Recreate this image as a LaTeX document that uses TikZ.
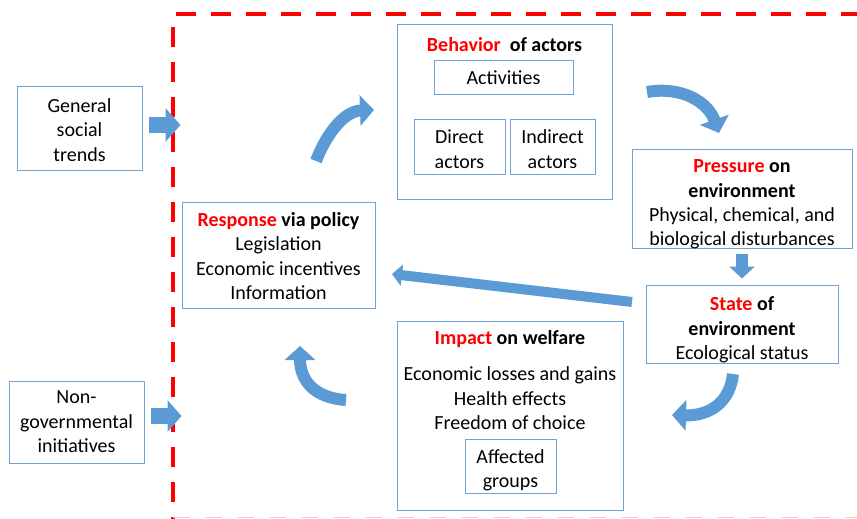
\documentclass[tikz,border=0pt]{standalone}
\usepackage{fontspec}
\setmainfont{Carlito}
\usetikzlibrary{arrows.meta}
\definecolor{boxblue}{RGB}{112,162,216}
\definecolor{arrblue}{RGB}{91,155,213}
\definecolor{faintred}{RGB}{255,196,196}
\newcommand{\rd}[1]{\textcolor{red}{\textbf{#1}}}

\begin{document}
\begin{tikzpicture}[x=1pt,y=-1pt,
    font=\fontsize{20}{24.4}\selectfont,
    box/.style={draw=boxblue,line width=1pt,inner sep=0pt,align=center},
    txt/.style={inner sep=0pt,align=center},
    blk/.style={draw=arrblue,line width=#1},
    curv/.style={draw=arrblue,line width=12pt,-{Triangle[width=30pt,length=14pt]}}]
  \useasboundingbox (0,0) rectangle (857,519);
  % dashed frame
  \draw[red,line width=4.5pt,dash pattern=on 20pt off 15pt] (176,14) -- (857,14);
  \draw[red,line width=4.5pt,dash pattern=on 20pt off 15pt] (173,27) -- (173,519);
  \draw[faintred,line width=1.5pt,dash pattern=on 17pt off 15pt] (173,517.5) -- (857,517.5);
  % outside drivers
  \node[box,minimum width=125pt,minimum height=83pt] (gen) at (79.5,128.5) {};
  \node[txt] (gentxt) at (79.5,130) {General\\social\\trends};
  \node[box,minimum width=135pt,minimum height=82pt] (ngo) at (76.5,422) {Non-\\governmental\\initiatives};
  % response
  \node[box,minimum width=193pt,minimum height=106pt] (resp) at (278.5,255) {};
  \node[txt] (resptxt) at (278.5,256)
    {\rd{Response} \textbf{via policy}\\Legislation\\Economic incentives\\Information};
  % behavior
  \node[box,minimum width=215pt,minimum height=174pt] (beh) at (504.5,112) {};
  \node[txt] (behtit) at (504.5,45) {\rd{Behavior}\ \ \textbf{of actors}};
  \node[box,minimum width=139pt,minimum height=33pt] (act) at (503.5,77.5) {Activities};
  \node[box,minimum width=91pt,minimum height=55pt] (dir) at (459.5,146.5) {};
  \node[txt] (dirtxt) at (459.5,149) {Direct\\actors};
  \node[box,minimum width=85pt,minimum height=55pt] (ind) at (552.5,146.5) {};
  \node[txt] (indtxt) at (552.5,149) {Indirect\\actors};
  % pressure and state
  \node[box,minimum width=220pt,minimum height=99pt] (pres) at (742,198.5) {};
  \node[txt] (prestxt) at (742,204.5)
    {\rd{Pressure} \textbf{on}\\\textbf{environment}\\Physical, chemical, and\\biological disturbances};
  \node[box,minimum width=192pt,minimum height=78pt] (state) at (742,324) {};
  \node[txt] (statetxt) at (742,330) {\rd{State} \textbf{of}\\\textbf{environment}\\Ecological status};
  % impact
  \node[box,minimum width=226pt,minimum height=189pt] (imp) at (510,415.5) {};
  \node[txt] (imptit) at (510,339) {\rd{Impact} \textbf{on welfare}};
  \node[txt] (impls) at (510,398.5) {Economic losses and gains\\Health effects\\Freedom of choice};
  \node[box,minimum width=91pt,minimum height=54pt] (aff) at (510.5,466) {};
  \node[txt] (afftxt) at (510.5,470) {Affected\\groups};
  % free ends of the block arrows
  \coordinate (g1) at (149,125);  \coordinate (g2) at (180.5,125);
  \coordinate (n1) at (151,416);  \coordinate (n2) at (181.5,416);
  \coordinate (l1) at (632,302);  \coordinate (l2) at (392,274);
  \coordinate (c1) at (316,161);  \coordinate (c2) at (374,110);
  \coordinate (c3) at (647,92);   \coordinate (c4) at (719,133);
  \coordinate (c5) at (733,374);  \coordinate (c6) at (672,415);
  \coordinate (c7) at (346,400);  \coordinate (c8) at (300,346);
  % straight arrows
  \draw[blk=16pt,-{Triangle[width=33pt,length=15pt]}] (g1) -- (g2);
  \draw[blk=16pt,-{Triangle[width=31pt,length=14pt]}] (n1) -- (n2);
  \draw[blk=12pt,-{Triangle[width=25pt,length=12pt]}] ([yshift=-5pt]pres.south) -- ([yshift=6pt]state.north);
  \draw[blk=10pt,-{Triangle[width=21pt,length=10pt]}] (l1) -- (l2);
  % curved arrows
  \draw[curv] (c1) .. controls (328,130) and (346,111) .. (c2);
  \draw[curv] (c3) .. controls (682,86) and (708,102) .. (c4);
  \draw[curv] (c5) .. controls (730,402) and (710,416) .. (c6);
  \draw[curv] (c7) .. controls (314,398) and (300,380) .. (c8);
\end{tikzpicture}
\end{document}
